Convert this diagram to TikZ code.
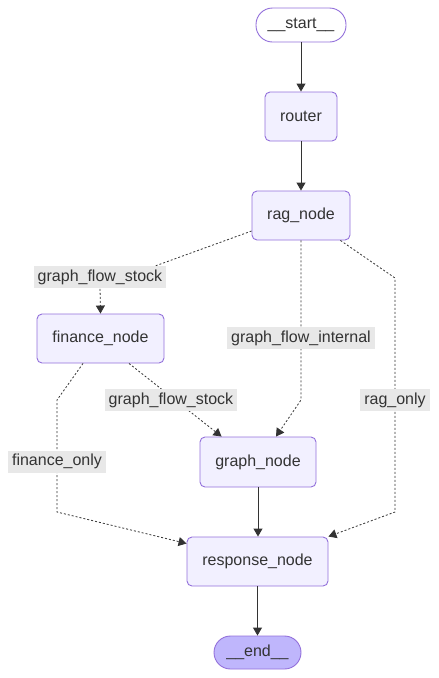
\documentclass[tikz,border=0pt]{standalone}
\usepackage{fontspec}
\setmainfont{Liberation Sans}
\usetikzlibrary{arrows.meta}
\definecolor{nodefill}{HTML}{F2F0FF}
\definecolor{nodeline}{HTML}{9370DB}
\definecolor{endfill}{HTML}{BFB6FC}
\definecolor{txt}{HTML}{333333}
\definecolor{lblbg}{HTML}{E8E8E8}
\begin{document}
\begin{tikzpicture}[x=1pt,y=-1pt,
  font=\fontsize{16}{19}\selectfont,
  box/.style={draw=nodeline, fill=nodefill, rounded corners=5pt, minimum height=49pt, inner sep=0pt, line width=0.9pt, text=txt},
  term/.style={draw=nodeline, rounded corners=16.5pt, minimum height=34pt, inner sep=0pt, line width=0.9pt, text=txt},
  solidedge/.style={draw=txt, line width=0.9pt, -{Triangle[length=8pt,width=9pt]}},
  dashedge/.style={draw=txt, line width=0.8pt, dash pattern=on 2pt off 2pt, -{Triangle[length=8pt,width=9pt]}},
  lbl/.style={fill=lblbg, minimum height=22pt, inner xsep=4pt, inner ysep=0pt, text=txt}]
\useasboundingbox (0,0) rectangle (439,678);

% nodes
\node[term, fill=white, minimum width=90pt] (start) at (301,25) {\_\_start\_\_};
\node[box, minimum width=72pt] (router) at (301,116.5) {router};
\node[box, minimum width=98pt] (rag) at (301,215.5) {rag\_node};
\node[box, minimum width=127pt] (finance) at (100.5,338.5) {finance\_node};
\node[box, minimum width=116pt, minimum height=50pt] (graph) at (258,462) {graph\_node};
\node[box, minimum width=141pt] (response) at (257.5,561.5) {response\_node};
\node[term, fill=endfill, minimum width=87pt, minimum height=33pt] (end) at (257.5,652.5) {\_\_end\_\_};

% bend points
\coordinate (rf1) at (100,286);
\coordinate (rg1) at (301,400);
\coordinate (rr1) at (395,278);
\coordinate (rr2) at (395,512);
\coordinate (fr1) at (57,400);
\coordinate (fr2) at (57,512);

% solid edges
\draw[solidedge] (start) -- (router);
\draw[solidedge] (router) -- (rag);
\draw[solidedge] (graph.south) -- (graph.south |- response.north);
\draw[solidedge] (response) -- (end);

% dashed edges
\draw[dashedge] ([yshift=-15.5pt]rag.west) -- (rf1) -- (finance.north);
\draw[dashedge] (rag.south) -- (rg1) -- ([xshift=18pt]graph.north);
\draw[dashedge] ([xshift=-10pt]rag.south east) -- (rr1) -- (rr2) -- (response.north east);
\draw[dashedge] ([xshift=28.5pt]finance.south) -- ([xshift=22pt]graph.north west);
\draw[dashedge] ([xshift=-17.5pt]finance.south) -- (fr1) -- (fr2) -- ([yshift=18pt]response.west);

% labels
\node[lbl] (l1) at (100,277) {graph\_flow\_stock};
\node[lbl] (l2) at (301,338) {graph\_flow\_internal};
\node[lbl] (l3) at (395,400) {rag\_only};
\node[lbl] (l4) at (171,400) {graph\_flow\_stock};
\node[lbl] (l5) at (57,461.5) {finance\_only};
\end{tikzpicture}
\end{document}
